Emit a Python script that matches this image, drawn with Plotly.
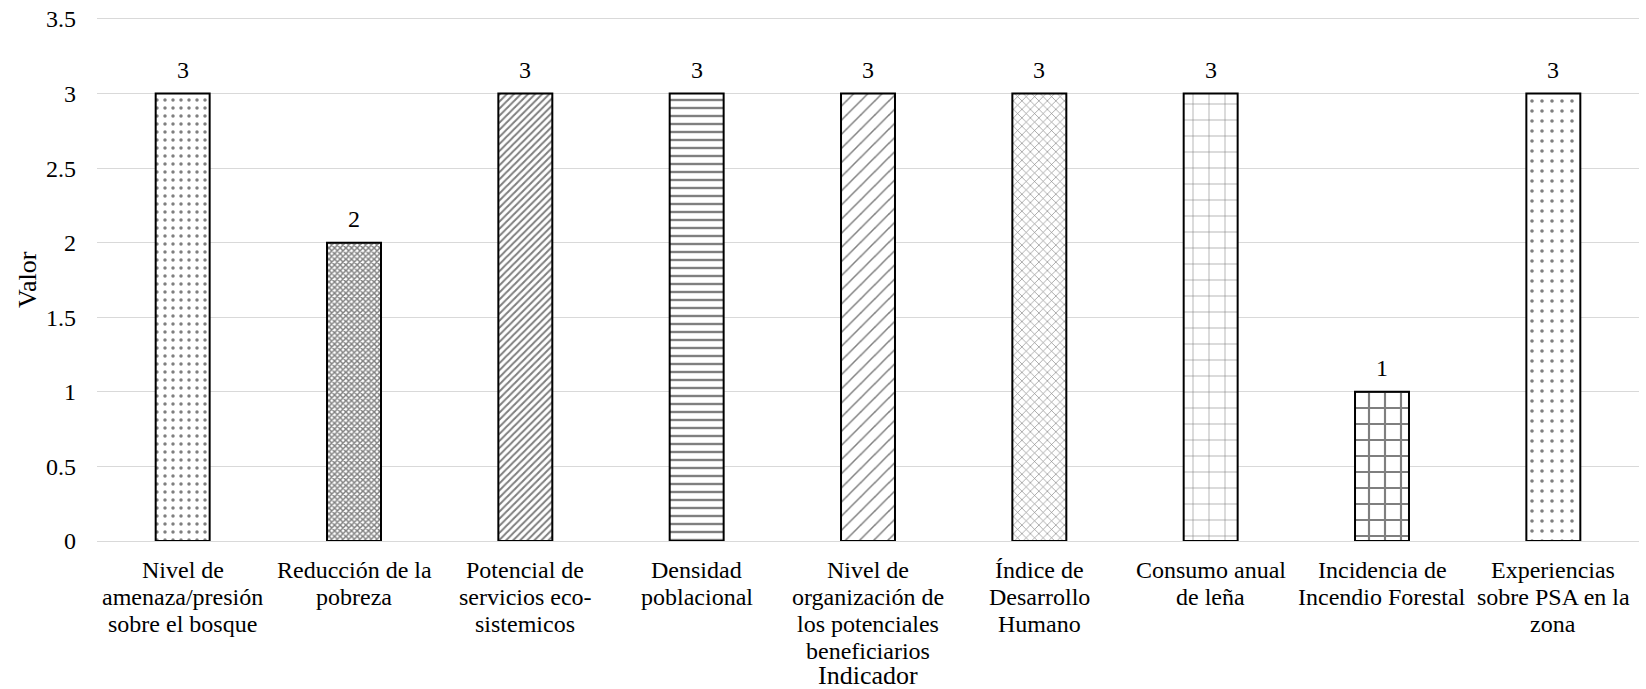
import plotly.graph_objects as go

categories = [
    "Nivel de\namenaza/presión\nsobre el bosque",
    "Reducción de la\npobreza",
    "Potencial de\nservicios eco-\nsistemicos",
    "Densidad\npoblacional",
    "Nivel de\norganización de\nlos potenciales\nbeneficiarios",
    "Índice de\nDesarrollo\nHumano",
    "Consumo anual\nde leña",
    "Incidencia de\nIncendio Forestal",
    "Experiencias\nsobre PSA en la\nzona",
]
values = [3, 2, 3, 3, 3, 3, 3, 1, 3]
y_ticks = [0, 0.5, 1, 1.5, 2, 2.5, 3, 3.5]
y_ticktext = ["0", "0.5", "1", "1.5", "2", "2.5", "3", "3.5"]
x_title = "Indicador"
y_title = "Valor"

shapes = [".", "x", "/", "-", "/", "x", "+", "+", "."]
sizes = [8, 4, 5, 8, 10, 6, 16, 16, 10]
solid = [0.15, 0.6, 0.4, 0.3, 0.15, 0.2, 0.07, 0.25, 0.1]

FONT = "Liberation Serif, Times New Roman, serif"
FS = 24

W, H = 1646, 689
L, R, T, B = 97, 7, 16, 148
pw = W - L - R
ph = H - T - B
plot_bottom = H - B  # 541


def paper_y(py):
    return (plot_bottom - py) / ph


def paper_x(px):
    return (px - L) / pw


fig = go.Figure(go.Bar(
    x=categories, y=values,
    cliponaxis=False,
    marker=dict(
        color="white",
        line=dict(color="black", width=2),
        pattern=dict(shape=shapes, size=sizes, solidity=solid,
                     fgcolor="black", bgcolor="white", fillmode="overlay"),
    ),
    width=0.315,
))

annotations = []
# value labels
for c, v in zip(categories, values):
    annotations.append(dict(x=c, y=v, xref="x", yref="y", text=str(v),
                            showarrow=False, yanchor="middle", yshift=24,
                            font=dict(family=FONT, size=FS, color="black")))
# category labels, one annotation per line (tight line spacing)
LINE0, LSP = 570, 27
for c in categories:
    for k, line in enumerate(c.split("\n")):
        annotations.append(dict(x=c, y=paper_y(LINE0 + k * LSP), xref="x", yref="paper",
                                text=line, showarrow=False, yanchor="middle",
                                font=dict(family=FONT, size=FS, color="black")))

annotations.append(dict(text=x_title, x=0.5, y=paper_y(675),
                        xref="paper", yref="paper", yanchor="middle",
                        showarrow=False, font=dict(family=FONT, size=26, color="black")))
annotations.append(dict(text=y_title, x=paper_x(27), y=paper_y(280),
                        xref="paper", yref="paper", xanchor="center", yanchor="middle",
                        textangle=-90, showarrow=False,
                        font=dict(family=FONT, size=26, color="black")))

fig.update_layout(
    width=W, height=H,
    margin=dict(l=L, r=R, t=T, b=B),
    plot_bgcolor="white", paper_bgcolor="white",
    showlegend=False,
    font=dict(family=FONT, size=FS, color="black"),
    xaxis=dict(showgrid=False, showline=True, linecolor="#d9d9d9", linewidth=1,
               showticklabels=False, ticks=""),
    yaxis=dict(range=[0, 3.52], tickvals=y_ticks, ticktext=y_ticktext,
               showgrid=True, gridcolor="#d9d9d9", gridwidth=1.3,
               zeroline=False, showline=False,
               ticklabelstandoff=20,
               tickfont=dict(family=FONT, size=FS, color="black")),
    annotations=annotations,
)

fig.write_html("out.html", config={"displayModeBar": False},
               post_script="document.body.style.margin='0';document.body.style.overflow='hidden';")
